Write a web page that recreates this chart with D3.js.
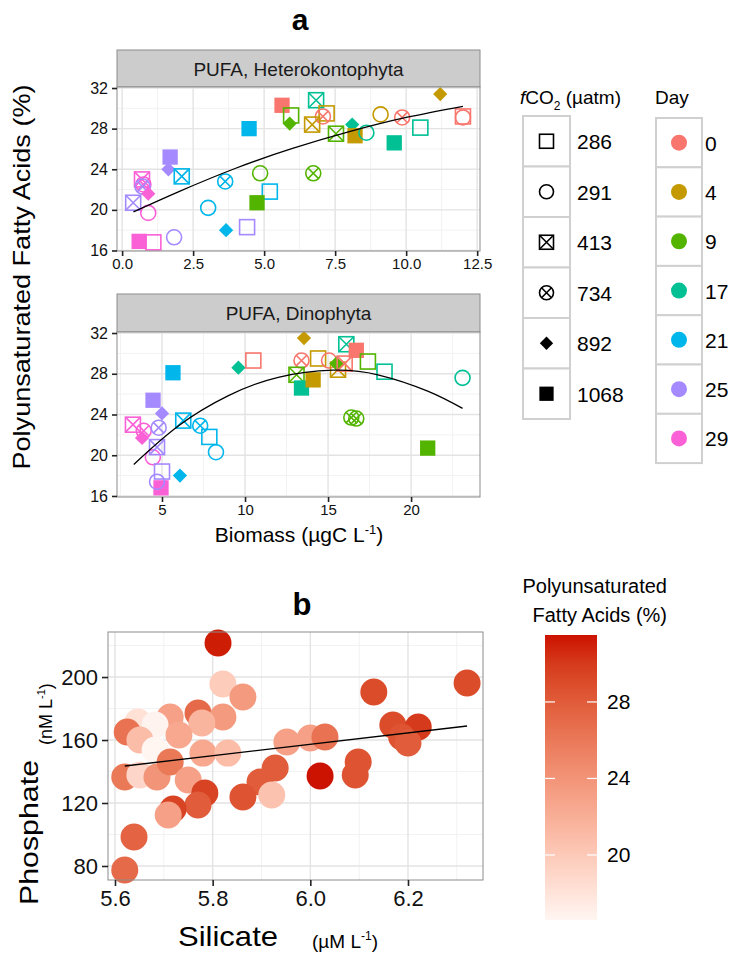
<!DOCTYPE html>
<html>
<head>
<meta charset="utf-8">
<script src="https://cdn.jsdelivr.net/npm/d3@7"></script>
<style>
  body { margin: 0; background: #fff; }
  text { font-family: "Liberation Sans", Arial, sans-serif; }
</style>
</head>
<body>
<svg width="731" height="957"></svg>
<script>
// ---- data ----
const days = [0, 4, 9, 17, 21, 25, 29];
const dayColors = ['#F8766D', '#C49A00', '#53B400', '#00C094', '#00B6EB', '#A58AFF', '#FB61D7'];
const co2Levels = [286, 291, 413, 734, 892, 1068];

// panel a, top: Heterokontophyta
const heteroBiomass = [0.39, 0.70, 0.75, 0.72, 0.92, 0.92, 0.60, 1.10, 1.83, 1.69, 1.63, 2.10, 3.03, 3.63, 3.66, 4.40, 4.47, 4.86, 5.20, 4.75,
  5.63, 5.95, 5.90, 6.83, 7.20, 7.07, 6.69, 6.73, 7.53, 8.10, 8.20, 8.60, 9.10, 9.86, 9.58, 10.5, 11.2, 12.0, 12.0];
const heteroPufa = [20.7, 23.0, 22.5, 22.3, 21.6, 19.7, 16.9, 16.8, 17.3, 25.2, 24.0, 23.3, 20.2, 22.8, 18.0, 18.3, 28.0, 23.6, 21.8, 20.7,
  30.3, 29.3, 28.5, 30.8, 29.5, 29.2, 28.4, 23.6, 27.5, 28.4, 27.3, 27.6, 29.4, 29.1, 26.6, 28.1, 31.4, 29.2, 29.1];
const heteroCO2 = [413, 413, 734, 734, 892, 291, 1068, 286, 291, 1068, 892, 413, 291, 734, 892, 286, 1068, 291, 286, 1068,
  1068, 286, 892, 413, 286, 734, 413, 734, 413, 892, 1068, 291, 291, 734, 1068, 286, 892, 286, 291];
const heteroDay = [25, 29, 29, 25, 29, 29, 29, 29, 25, 25, 25, 21, 21, 21, 21, 25, 21, 9, 21, 9,
  0, 9, 9, 17, 4, 0, 4, 9, 9, 17, 4, 17, 4, 0, 17, 17, 4, 0, 0];
const heteroTrendX = [0.4, 2, 4, 6, 8, 10, 12];
const heteroTrendY = [19.8, 21.8, 24.1, 26.05, 27.7, 29.1, 30.2];

// panel a, bottom: Dinophyta
const dinoBiomass = [3.25, 3.80, 3.90, 4.45, 4.94, 4.70, 5.00, 4.70, 4.80, 4.46, 5.00, 5.66, 6.08, 6.28, 7.30, 7.85, 8.25, 9.60, 10.5,
  13.55, 13.4, 13.1, 13.4, 14.1, 14.4, 15.06, 16.1, 16.7, 15.6, 15.5, 16.0, 17.4, 18.4, 16.4, 16.7, 21.0, 23.1];
const dinoPufa = [23.0, 21.7, 22.4, 19.8, 16.8, 17.4, 18.4, 20.8, 22.7, 25.4, 24.1, 28.1, 18.0, 23.4, 22.9, 21.8, 20.3, 28.6, 29.3,
  31.5, 29.3, 27.9, 26.6, 27.4, 29.5, 29.3, 30.9, 30.3, 28.4, 29.0, 29.0, 29.2, 28.2, 23.7, 23.6, 20.7, 27.6];
const dinoCO2 = [413, 892, 734, 291, 1068, 291, 286, 413, 734, 1068, 892, 1068, 892, 413, 734, 286, 291, 892, 286,
  892, 734, 413, 1068, 1068, 286, 291, 413, 1068, 413, 892, 413, 286, 286, 734, 734, 1068, 291];
const dinoDay = [29, 29, 29, 29, 29, 25, 25, 25, 25, 25, 25, 21, 21, 21, 21, 21, 21, 17, 0,
  4, 0, 9, 17, 4, 4, 0, 17, 0, 4, 9, 0, 9, 17, 9, 9, 9, 17];
const dinoTrendX = [3.3, 6, 9, 12, 15.3, 18, 21, 23.1];
const dinoTrendY = [19.1, 22.9, 25.85, 27.65, 28.35, 27.9, 26.3, 24.6];

// panel b
const silicate = [5.811, 5.821, 5.862, 6.321, 6.130, 5.713, 5.770, 5.821, 5.647, 5.682, 5.778, 5.625, 5.731, 5.651, 5.682, 5.780, 5.831,
  5.952, 6.000, 6.030, 6.169, 6.221, 6.187, 6.200, 5.620, 5.651, 5.686, 5.713, 5.750, 5.928, 5.897, 5.921, 5.862, 6.020,
  6.098, 6.092, 5.784, 5.770, 5.719, 5.709, 5.639, 5.620];
const phosphate = [221.6, 195.6, 187.3, 196.2, 190.5, 174.6, 177.1, 174.6, 171.4, 169.5, 170.8, 165.1, 163.2, 160.0, 153.7, 151.7, 151.7,
  158.7, 161.3, 161.9, 169.5, 168.3, 161.9, 158.1, 136.5, 137.8, 136.5, 146.0, 134.6, 142.2, 133.3, 125.1, 123.8, 137.1,
  146.0, 137.8, 126.3, 118.7, 116.2, 112.4, 98.4, 77.5];
const pufaB = [31.2, 19.8, 23.5, 29.0, 29.0, 23.0, 27.0, 23.5, 18.2, 16.8, 21.5, 26.5, 22.5, 21.0, 16.6, 22.5, 21.0,
  23.0, 23.0, 26.5, 29.0, 30.0, 28.5, 28.0, 26.0, 19.0, 24.0, 26.0, 23.0, 28.0, 28.0, 20.5, 28.5, 31.5,
  28.5, 28.5, 29.5, 28.0, 29.5, 23.0, 27.5, 27.0];
const silTrendX = [5.62, 6.321];
const silTrendY = [143.5, 168.9];

const heteroXTicks = [0, 2.5, 5, 7.5, 10, 12.5];
const dinoXTicks = [5, 10, 15, 20];
const pufaTicks = [16, 20, 24, 28, 32];
const silTicks = [5.6, 5.8, 6.0, 6.2];
const phosTicks = [80, 120, 160, 200];
const colorbarTicks = [20, 24, 28];

// ---- drawing ----
const svg = d3.select('svg');
const font = '"Liberation Sans", Arial, sans-serif';
const dayColor = d3.scaleOrdinal(days, dayColors);

function drawShape(g, level, color, s) {
  const h = s / 2;
  const sw = 1.6;
  if (level === 286 || level === 413) {
    g.append('rect').attr('x', -h).attr('y', -h).attr('width', s).attr('height', s)
      .attr('fill', 'none').attr('stroke', color).attr('stroke-width', sw);
    if (level === 413) {
      g.append('path').attr('d', `M${-h},${-h}L${h},${h}M${h},${-h}L${-h},${h}`)
        .attr('stroke', color).attr('stroke-width', sw);
    }
  } else if (level === 291 || level === 734) {
    g.append('circle').attr('r', h).attr('fill', 'none').attr('stroke', color).attr('stroke-width', sw);
    if (level === 734) {
      const d = h * 0.71;
      g.append('path').attr('d', `M${-d},${-d}L${d},${d}M${d},${-d}L${-d},${d}`)
        .attr('stroke', color).attr('stroke-width', sw);
    }
  } else if (level === 892) {
    const d = h * 0.95;
    g.append('path').attr('d', `M0,${-d}L${d},0L0,${d}L${-d},0Z`).attr('fill', color);
  } else {
    const f = s * 1.02;
    g.append('rect').attr('x', -f / 2).attr('y', -f / 2).attr('width', f).attr('height', f).attr('fill', color);
  }
}

function minorTicks(ticks, dom) {
  const step = ticks[1] - ticks[0];
  return d3.range(ticks[0] - step / 2, ticks[ticks.length - 1] + step, step)
    .filter(v => v > dom[0] && v < dom[1]);
}

function drawGrid(g, x, y, xTicks, yTicks, l, r, t, b) {
  const xm = minorTicks(xTicks, x.domain());
  const ym = minorTicks(yTicks, y.domain());
  g.selectAll(null).data(xm).enter().append('line')
    .attr('x1', d => x(d)).attr('x2', d => x(d)).attr('y1', t).attr('y2', b)
    .attr('stroke', '#f2f2f2').attr('stroke-width', 1);
  g.selectAll(null).data(ym).enter().append('line')
    .attr('y1', d => y(d)).attr('y2', d => y(d)).attr('x1', l).attr('x2', r)
    .attr('stroke', '#f2f2f2').attr('stroke-width', 1);
  g.selectAll(null).data(xTicks.filter(v => v > x.domain()[0] && v < x.domain()[1])).enter().append('line')
    .attr('x1', d => x(d)).attr('x2', d => x(d)).attr('y1', t).attr('y2', b)
    .attr('stroke', '#e3e3e3').attr('stroke-width', 1.4);
  g.selectAll(null).data(yTicks.filter(v => v > y.domain()[0] && v < y.domain()[1])).enter().append('line')
    .attr('y1', d => y(d)).attr('y2', d => y(d)).attr('x1', l).attr('x2', r)
    .attr('stroke', '#e3e3e3').attr('stroke-width', 1.4);
}

function styleAxis(ax, size) {
  ax.select('.domain').remove();
  ax.attr('font-family', font);
  ax.selectAll('line').attr('stroke', '#222').attr('stroke-width', 1.6);
  ax.selectAll('text').attr('font-size', size).attr('fill', '#111');
}

const PL = 117, PR = 480;

function drawFacet(cfg) {
  const x = d3.scaleLinear().domain(cfg.xDomain).range([PL, PR]);
  const y = d3.scaleLinear().domain(cfg.yDomain).range([cfg.bottom, cfg.top]);
  const g = svg.append('g');

  // strip
  g.append('rect').attr('x', PL).attr('y', cfg.stripTop).attr('width', PR - PL).attr('height', cfg.top - cfg.stripTop)
    .attr('fill', '#cccccc').attr('stroke', '#8c8c8c').attr('stroke-width', 1);
  g.append('text').attr('x', (PL + PR) / 2).attr('y', cfg.stripTop + (cfg.top - cfg.stripTop) / 2 + 7)
    .attr('text-anchor', 'middle').attr('font-size', 19).attr('fill', '#1a1a1a').text(cfg.title);

  g.append('rect').attr('x', PL).attr('y', cfg.top).attr('width', PR - PL).attr('height', cfg.bottom - cfg.top).attr('fill', '#fff');
  drawGrid(g, x, y, cfg.xTicks, pufaTicks, PL, PR, cfg.top, cfg.bottom);

  // points
  cfg.xs.forEach((v, i) => {
    const p = g.append('g').attr('transform', `translate(${x(v)},${y(cfg.ys[i])})`);
    drawShape(p, cfg.co2[i], dayColor(cfg.day[i]), 15);
  });

  // fitted curve
  const line = d3.line().x((d, i) => x(cfg.tx[i])).y((d, i) => y(cfg.ty[i])).curve(d3.curveNatural);
  g.append('path').attr('d', line(cfg.tx)).attr('fill', 'none').attr('stroke', '#000').attr('stroke-width', 1.3);

  g.append('rect').attr('x', PL).attr('y', cfg.top).attr('width', PR - PL).attr('height', cfg.bottom - cfg.top)
    .attr('fill', 'none').attr('stroke', '#8c8c8c').attr('stroke-width', 1);

  const ax = g.append('g').attr('transform', `translate(0,${cfg.bottom})`)
    .call(d3.axisBottom(x).tickValues(cfg.xTicks).tickFormat(cfg.xFmt).tickSize(5).tickPadding(2));
  styleAxis(ax, 15);
  const ay = g.append('g').attr('transform', `translate(${PL},0)`)
    .call(d3.axisLeft(y).tickValues(pufaTicks).tickSize(5).tickPadding(4));
  styleAxis(ay, 16);
}

drawFacet({
  title: 'PUFA, Heterokontophyta', stripTop: 50, top: 87, bottom: 251,
  xDomain: [-0.18, 12.6], yDomain: [15.95, 32.1], xTicks: heteroXTicks, xFmt: d3.format('.1f'),
  xs: heteroBiomass, ys: heteroPufa, co2: heteroCO2, day: heteroDay, tx: heteroTrendX, ty: heteroTrendY
});
drawFacet({
  title: 'PUFA, Dinophyta', stripTop: 294, top: 332, bottom: 497,
  xDomain: [2.29, 24.15], yDomain: [15.9, 32.1], xTicks: dinoXTicks, xFmt: d3.format('d'),
  xs: dinoBiomass, ys: dinoPufa, co2: dinoCO2, day: dinoDay, tx: dinoTrendX, ty: dinoTrendY
});

// panel a labels
svg.append('text').attr('x', 300).attr('y', 30).attr('text-anchor', 'middle')
  .attr('font-size', 30).attr('font-weight', 'bold').text('a');
svg.append('text').attr('transform', 'translate(30,277) rotate(-90)').attr('text-anchor', 'middle')
  .attr('font-size', 24).attr('textLength', 385).attr('lengthAdjust', 'spacingAndGlyphs')
  .text('Polyunsaturated Fatty Acids (%)');
const bt = svg.append('text').attr('x', 299).attr('y', 542).attr('text-anchor', 'middle').attr('font-size', 21);
bt.append('tspan').text('Biomass (µgC L');
bt.append('tspan').attr('dy', -8).attr('font-size', 13).text('-1');
bt.append('tspan').attr('dy', 8).text(')');

// fCO2 legend
const lt = svg.append('text').attr('x', 520).attr('y', 104).attr('font-size', 19);
lt.append('tspan').attr('font-style', 'italic').text('f');
lt.append('tspan').text('CO');
lt.append('tspan').attr('dy', 6).attr('font-size', 12).text('2');
lt.append('tspan').attr('dy', -6).text(' (µatm)');
const cellH = 50.5;
co2Levels.forEach((lv, i) => {
  const cy = 116 + i * cellH;
  svg.append('rect').attr('x', 523).attr('y', cy).attr('width', 47).attr('height', cellH)
    .attr('fill', '#fff').attr('stroke', '#d0d0d0').attr('stroke-width', 2);
  const p = svg.append('g').attr('transform', `translate(546.5,${cy + cellH / 2})`);
  drawShape(p, lv, '#000', 14);
  svg.append('text').attr('x', 577).attr('y', cy + cellH / 2 + 8).attr('font-size', 21).text(lv);
});

// Day legend
svg.append('text').attr('x', 655).attr('y', 104).attr('font-size', 19).text('Day');
const dayH = 49.3;
days.forEach((d, i) => {
  const cy = 118 + i * dayH;
  svg.append('rect').attr('x', 656).attr('y', cy).attr('width', 46).attr('height', dayH)
    .attr('fill', '#fff').attr('stroke', '#d0d0d0').attr('stroke-width', 2);
  svg.append('circle').attr('cx', 679).attr('cy', cy + dayH / 2).attr('r', 8).attr('fill', dayColor(d));
  svg.append('text').attr('x', 705).attr('y', cy + dayH / 2 + 8).attr('font-size', 21).text(d);
});

// ---- panel b ----
const BL = 108, BR = 483, BT = 632, BB = 880;
const xb = d3.scaleLinear().domain([5.5857, 6.3536]).range([BL, BR]);
const yb = d3.scaleLinear().domain([71.1, 228.6]).range([BB, BT]);
const pufaExtent = d3.extent(pufaB);
const colorB = d3.scaleSequential(d3.interpolateLab('#fff6f2', '#cc1200')).domain(pufaExtent);

const gb = svg.append('g');
gb.append('rect').attr('x', BL).attr('y', BT).attr('width', BR - BL).attr('height', BB - BT).attr('fill', '#fff');
drawGrid(gb, xb, yb, silTicks, phosTicks, BL, BR, BT, BB);
gb.selectAll(null).data(silicate).enter().append('circle')
  .attr('cx', d => xb(d)).attr('cy', (d, i) => yb(phosphate[i])).attr('r', 13.5)
  .attr('fill', (d, i) => colorB(pufaB[i]));
const lineB = d3.line().x((d, i) => xb(silTrendX[i])).y((d, i) => yb(silTrendY[i]));
gb.append('path').attr('d', lineB(silTrendX)).attr('stroke', '#000').attr('stroke-width', 1.4).attr('fill', 'none');
gb.append('rect').attr('x', BL).attr('y', BT).attr('width', BR - BL).attr('height', BB - BT)
  .attr('fill', 'none').attr('stroke', '#8c8c8c').attr('stroke-width', 1);
const axb = gb.append('g').attr('transform', `translate(0,${BB})`)
  .call(d3.axisBottom(xb).tickValues(silTicks).tickFormat(d3.format('.1f')).tickSize(6).tickPadding(4));
styleAxis(axb, 22);
const ayb = gb.append('g').attr('transform', `translate(${BL},0)`)
  .call(d3.axisLeft(yb).tickValues(phosTicks).tickSize(6).tickPadding(4));
styleAxis(ayb, 22);

svg.append('text').attr('x', 302).attr('y', 615).attr('text-anchor', 'middle')
  .attr('font-size', 31).attr('font-weight', 'bold').text('b');
svg.append('text').attr('x', 178).attr('y', 946).attr('font-size', 28)
  .attr('textLength', 100).attr('lengthAdjust', 'spacingAndGlyphs').text('Silicate');
const su = svg.append('text').attr('x', 312).attr('y', 948).attr('font-size', 19);
su.append('tspan').text('(µM L');
su.append('tspan').attr('dy', -8).attr('font-size', 12).text('-1');
su.append('tspan').attr('dy', 8).text(')');
svg.append('text').attr('transform', 'translate(38,905) rotate(-90)').attr('font-size', 26)
  .attr('textLength', 145).attr('lengthAdjust', 'spacingAndGlyphs').text('Phosphate');
const pu = svg.append('text').attr('transform', 'translate(52,745) rotate(-90)').attr('font-size', 18);
pu.append('tspan').text('(nM L');
pu.append('tspan').attr('dy', -7).attr('font-size', 11).text('-1');
pu.append('tspan').attr('dy', 7).text(')');

// colorbar
const CBL = 545, CBW = 52, CBT = 635, CBB = 920;
const yc = d3.scaleLinear().domain(pufaExtent).range([CBB, CBT]);
const grad = svg.append('defs').append('linearGradient').attr('id', 'pufaGrad')
  .attr('x1', 0).attr('y1', 1).attr('x2', 0).attr('y2', 0);
d3.range(0, 1.0001, 0.1).forEach(t => {
  grad.append('stop').attr('offset', t)
    .attr('stop-color', colorB(pufaExtent[0] + t * (pufaExtent[1] - pufaExtent[0])));
});
svg.append('rect').attr('x', CBL).attr('y', CBT).attr('width', CBW).attr('height', CBB - CBT).attr('fill', 'url(#pufaGrad)');
colorbarTicks.forEach(v => {
  svg.append('line').attr('x1', CBL).attr('x2', CBL + 10).attr('y1', yc(v)).attr('y2', yc(v)).attr('stroke', '#fff').attr('stroke-width', 1.2);
  svg.append('line').attr('x1', CBL + CBW - 10).attr('x2', CBL + CBW).attr('y1', yc(v)).attr('y2', yc(v)).attr('stroke', '#fff').attr('stroke-width', 1.2);
  svg.append('text').attr('x', 607).attr('y', yc(v) + 7).attr('font-size', 21).text(v);
});
svg.append('text').attr('x', 667).attr('y', 593).attr('text-anchor', 'end').attr('font-size', 20).text('Polyunsaturated');
svg.append('text').attr('x', 667).attr('y', 622).attr('text-anchor', 'end').attr('font-size', 20).text('Fatty Acids (%)');
</script>
</body>
</html>
